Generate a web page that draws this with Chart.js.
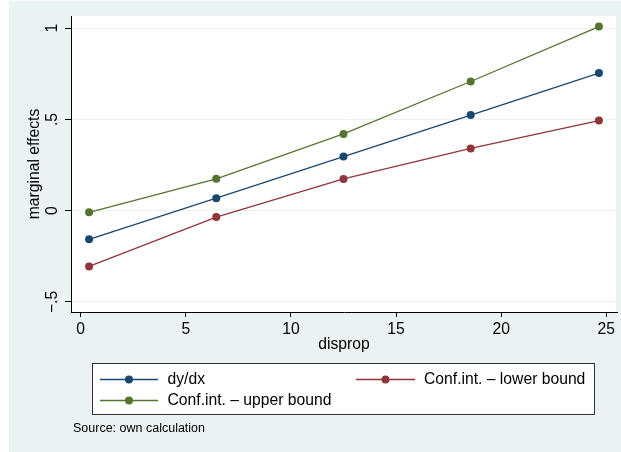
<!DOCTYPE html>
<html>
<head>
<meta charset="utf-8">
<script src="https://cdn.jsdelivr.net/npm/chart.js@4.4.0/dist/chart.umd.min.js"></script>
<style>
  html, body { margin: 0; padding: 0; background: #ffffff; }
  #wrap { width: 621px; height: 452px; position: relative; }
</style>
</head>
<body>
<div id="wrap"><canvas id="chart"></canvas></div>
<script>
// values
const disprop = [0.4, 6.45, 12.5, 18.55, 24.65];
const dydx = [-0.157, 0.069, 0.297, 0.524, 0.754];
const lowerBound = [-0.305, -0.035, 0.174, 0.341, 0.494];
const upperBound = [-0.009, 0.175, 0.421, 0.708, 1.009];
const xTicks = [0, 5, 10, 15, 20, 25];
const yTicks = [-0.5, 0, 0.5, 1];
const yTickLabels = ["\u2212.5", "0", ".5", "1"];

const FONT = "'Liberation Sans', Arial, sans-serif";
const colors = {
  navy: "#1a476f",
  maroon: "#90353b",
  green: "#55752f",
  bg: "#eaf2f3",
};

function toPoints(ys) {
  return disprop.map((x, i) => ({ x: x, y: ys[i] }));
}

function series(label, ys, color) {
  return {
    label: label,
    data: toPoints(ys),
    borderColor: color,
    backgroundColor: color,
    borderWidth: 1.3,
    pointRadius: 4,
    pointBorderWidth: 0,
    pointHoverRadius: 4,
    tension: 0,
  };
}

// outer graph region background
const backdrop = {
  id: "backdrop",
  beforeDraw(chart) {
    const { ctx, chartArea } = chart;
    ctx.save();
    ctx.fillStyle = "#ffffff";
    ctx.fillRect(0, 0, chart.width, chart.height);
    ctx.fillStyle = colors.bg;
    ctx.fillRect(9, 1, chart.width - 9, chart.height - 1);
    ctx.fillStyle = "#ffffff";
    ctx.fillRect(chartArea.left, chartArea.top, chartArea.right - chartArea.left - 1, chartArea.bottom - chartArea.top);
    ctx.restore();
  },
};

// stata-style boxed legend + note
const stataLegend = {
  id: "stataLegend",
  afterDraw(chart) {
    const { ctx } = chart;
    const ds = chart.data.datasets;
    ctx.save();
    ctx.fillStyle = "#ffffff";
    ctx.fillRect(92.5, 363.5, 502, 51);
    ctx.strokeStyle = "#333333";
    ctx.lineWidth = 1;
    ctx.strokeRect(92.5, 363.5, 502, 51);

    const slots = [
      { x0: 100, x1: 158, tx: 167.5, y: 379.5 },
      { x0: 356, x1: 415, tx: 424, y: 379.5 },
      { x0: 100, x1: 158, tx: 167.5, y: 400.5 },
    ];
    ctx.font = "15.7px " + FONT;
    ctx.textBaseline = "middle";
    ds.forEach((d, i) => {
      const s = slots[i];
      ctx.strokeStyle = d.borderColor;
      ctx.lineWidth = 1.3;
      ctx.beginPath();
      ctx.moveTo(s.x0, s.y);
      ctx.lineTo(s.x1, s.y);
      ctx.stroke();
      ctx.fillStyle = d.backgroundColor;
      ctx.beginPath();
      ctx.arc((s.x0 + s.x1) / 2, s.y, 4, 0, Math.PI * 2);
      ctx.fill();
      ctx.fillStyle = "#000000";
      ctx.fillText(d.label, s.tx, s.y + 0.5);
    });

    ctx.font = "12.5px " + FONT;
    ctx.fillStyle = "#000000";
    ctx.fillText("Source: own calculation", 73, 428.5);
    ctx.restore();
  },
};

const ctx = document.getElementById("chart").getContext("2d");
new Chart(ctx, {
  type: "line",
  data: {
    datasets: [
      series("dy/dx", dydx, colors.navy),
      series("Conf.int. \u2013 lower bound", lowerBound, colors.maroon),
      series("Conf.int. \u2013 upper bound", upperBound, colors.green),
    ],
  },
  options: {
    responsive: true,
    maintainAspectRatio: false,
    animation: false,
    layout: { padding: { left: 0, top: 16, right: 4, bottom: 0 } },
    plugins: {
      legend: { display: false },
      tooltip: { enabled: false },
    },
    scales: {
      x: {
        type: "linear",
        min: -0.46,
        max: 25.51,
        afterBuildTicks: (scale) => { scale.ticks = xTicks.map((v) => ({ value: v })); },
        afterFit: (scale) => { scale.height = 140; },
        ticks: {
          color: "#000000",
          font: { family: FONT, size: 15.7 },
          padding: 3,
          maxRotation: 0,
          autoSkip: false,
        },
        grid: {
          drawOnChartArea: false,
          drawTicks: true,
          tickLength: 5,
          tickColor: "#000000",
        },
        border: { display: true, color: "#000000", width: 1 },
        title: {
          display: true,
          text: "disprop",
          color: "#000000",
          font: { family: FONT, size: 15.7 },
          padding: { top: 0, bottom: 97.5 },
        },
      },
      y: {
        type: "linear",
        min: -0.555,
        max: 1.067,
        afterBuildTicks: (scale) => { scale.ticks = yTicks.map((v) => ({ value: v })); },
        afterFit: (scale) => { scale.width = 71; },
        ticks: {
          color: "#000000",
          font: { family: FONT, size: 15.7 },
          minRotation: 90,
          maxRotation: 90,
          crossAlign: "center",
          padding: 1,
          autoSkip: false,
          callback: (v) => yTickLabels[yTicks.indexOf(v)],
        },
        grid: {
          color: colors.bg,
          lineWidth: 1,
          drawTicks: true,
          tickLength: 6,
          tickColor: "#000000",
        },
        border: { display: true, color: "#000000", width: 1 },
        title: {
          display: true,
          text: "marginal effects",
          color: "#000000",
          font: { family: FONT, size: 15.7 },
          padding: { top: 25.5, bottom: 0 },
        },
      },
    },
  },
  plugins: [backdrop, stataLegend],
});
</script>
</body>
</html>
